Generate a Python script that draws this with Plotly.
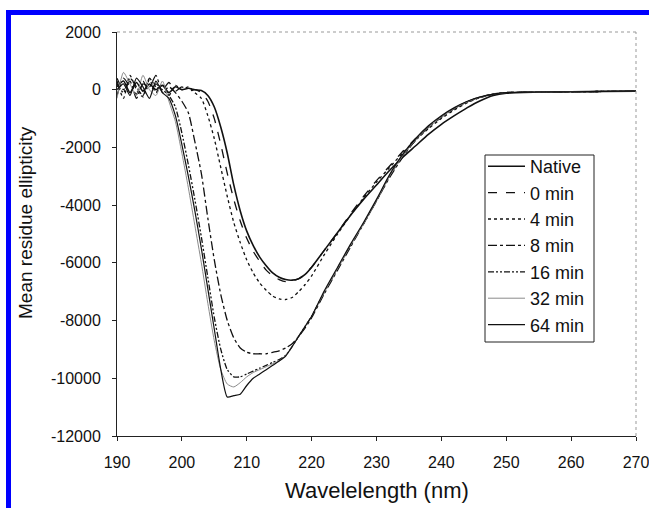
import plotly.graph_objects as go

# Wavelength grid (nm)
wavelength = [190, 191, 192, 193, 194, 195, 196, 197, 198, 199,
              200, 201, 202, 203, 204, 205, 206, 207, 208, 209,
              210, 211, 212, 213, 214, 215, 216, 217, 218, 219,
              220, 222, 224, 226, 228, 230, 232, 234, 236, 238,
              240, 242, 244, 246, 248, 250, 255, 260, 265, 270]

native = [100, 300, -100, 250, -50, 200, 0, 150, -100, 100,
          0, 50, 0, -30, -200, -600, -1300, -2200, -3300, -4200,
          -4900, -5400, -5800, -6100, -6350, -6500, -6580, -6600, -6550, -6400,
          -6150, -5550, -4950, -4350, -3800, -3300, -2800, -2350, -1950, -1550,
          -1200, -900, -620, -380, -200, -120, -80, -70, -60, -50]

min0 = [-200, 400, 100, -150, 300, -100, 200, 0, 250, -50,
        100, -50, 0, -100, -400, -1000, -1900, -2900, -3800, -4550,
        -5150, -5600, -5950, -6250, -6450, -6580, -6650, -6620, -6550, -6380,
        -6150, -5550, -4950, -4300, -3700, -3150, -2650, -2150, -1700, -1300,
        -950, -650, -420, -250, -150, -100, -80, -70, -60, -50]

min4 = [300, -300, 500, 0, -250, 350, -100, 200, -200, 150,
        0, 100, -100, -300, -900, -1700, -2700, -3700, -4600, -5300,
        -5900, -6350, -6700, -6950, -7150, -7250, -7270, -7200, -7000, -6750,
        -6450, -5700, -5000, -4350, -3750, -3200, -2700, -2200, -1750, -1350,
        -1000, -700, -450, -270, -160, -100, -80, -70, -60, -50]

min8 = [400, 0, 300, -300, 200, 100, 500, -100, 100, -100,
        -400, -800, -1800, -2900, -4450, -5900, -7100, -8000, -8600, -8950,
        -9100, -9150, -9150, -9150, -9100, -9050, -8950, -8800, -8550, -8250,
        -7900, -7050, -6250, -5450, -4650, -3850, -3050, -2350, -1750, -1300,
        -950, -650, -420, -260, -150, -100, -80, -70, -60, -50]

min16 = [200, -100, 400, 100, -200, 400, 100, 0, -200, -600,
         -1500, -2600, -3800, -5100, -6500, -7900, -9000, -9700, -9950, -9950,
         -9850, -9750, -9650, -9550, -9450, -9350, -9200, -8900, -8550, -8200,
         -7850, -7000, -6200, -5400, -4650, -3850, -3000, -2300, -1750, -1300,
         -950, -650, -420, -260, -150, -100, -80, -70, -60, -50]

min32 = [-300, 600, 200, -200, 500, 0, -200, 300, -400, -1100,
         -2200, -3400, -4700, -6000, -7400, -8700, -9700, -10200, -10300, -10150,
         -9950, -9800, -9700, -9600, -9500, -9400, -9200, -8900, -8550, -8200,
         -7850, -7000, -6200, -5400, -4650, -3850, -3000, -2300, -1750, -1300,
         -950, -650, -420, -260, -150, -100, -80, -70, -60, -50]

min64 = [0, 200, -200, 400, 100, -300, 300, -100, -300, -900,
         -1900, -3000, -4200, -5500, -6900, -8300, -9700, -10650, -10600, -10550,
         -10250, -10000, -9850, -9700, -9550, -9400, -9230, -8900, -8550, -8200,
         -7850, -6950, -6150, -5350, -4600, -3800, -2950, -2250, -1700, -1250,
         -900, -620, -400, -250, -150, -100, -80, -70, -60, -50]

series_names = ["Native", "0 min", "4 min", "8 min", "16 min", "32 min", "64 min"]
series_values = [native, min0, min4, min8, min16, min32, min64]

styles = [
    dict(color="#111111", width=1.6, dash="solid"),
    dict(color="#111111", width=1.3, dash="dash"),
    dict(color="#111111", width=1.3, dash="dot"),
    dict(color="#111111", width=1.3, dash="dashdot"),
    dict(color="#111111", width=1.3, dash="6px,2px,2px,2px,2px,2px"),
    dict(color="#8a8a8a", width=1.0, dash="solid"),
    dict(color="#111111", width=1.2, dash="solid"),
]

x_ticks = [190, 200, 210, 220, 230, 240, 250, 260, 270]
y_ticks = [2000, 0, -2000, -4000, -6000, -8000, -10000, -12000]

fig = go.Figure()
for i, (name, vals) in enumerate(zip(series_names, series_values)):
    fig.add_trace(go.Scatter(
        x=wavelength, y=vals, mode="lines", name=name,
        line=dict(shape="spline", smoothing=0.6, **styles[i]),
        legendgroup=f"g{i}",
    ))

font_family = "Liberation Sans, Arial, sans-serif"

# pixel helpers for paper coordinates (plot area 117..636 x 32..436)
def px(x):
    return (x - 117) / 519

def py(y):
    return (436 - y) / 404

fig.update_layout(
    width=649, height=508,
    autosize=False,
    margin=dict(l=117, r=13, t=32, b=72, autoexpand=False),
    paper_bgcolor="white", plot_bgcolor="white",
    font=dict(family=font_family, color="#111111", size=16),
    showlegend=True,
    legend=dict(
        x=px(483), y=py(148), xanchor="left", yanchor="top",
        bgcolor="rgba(0,0,0,0)", borderwidth=0,
        font=dict(size=18, family=font_family, color="#111111"),
        tracegroupgap=0,
        itemwidth=37,
    ),
    xaxis=dict(
        range=[190, 270], tickvals=x_ticks, ticktext=[str(v) for v in x_ticks],
        showgrid=False, zeroline=False, showline=True, linecolor="#222222", linewidth=1,
        ticks="outside", ticklen=4, tickcolor="#222222", automargin=False,
        tickfont=dict(size=16), ticklabelstandoff=8, ticklabeloverflow="allow",
    ),
    yaxis=dict(
        range=[-12000, 2000], tickvals=y_ticks, ticktext=[str(v) for v in y_ticks],
        showgrid=False, zeroline=False, showline=True, linecolor="#222222", linewidth=1,
        ticks="outside", ticklen=4, tickcolor="#222222", automargin=False,
        tickfont=dict(size=16), ticklabelstandoff=8, ticklabeloverflow="allow",
    ),
    annotations=[
        dict(text="Wavelelength (nm)", xref="paper", yref="paper",
             x=px(377), y=py(490), xanchor="center", yanchor="middle",
             showarrow=False, font=dict(size=22, family=font_family, color="#111111")),
        dict(text="Mean residue ellipticity", xref="paper", yref="paper",
             x=px(25), y=py(223), xanchor="center", yanchor="middle", textangle=-90,
             showarrow=False, font=dict(size=19, family=font_family, color="#111111")),
    ],
    shapes=[
        # dotted top and right plot border
        dict(type="line", xref="paper", yref="paper", x0=0, x1=1, y0=1, y1=1,
             line=dict(color="#999999", width=1, dash="dot")),
        dict(type="line", xref="paper", yref="paper", x0=1, x1=1, y0=0, y1=1,
             line=dict(color="#999999", width=1, dash="dot")),
        # legend box
        dict(type="rect", xref="paper", yref="paper",
             x0=px(485), x1=px(594), y0=py(342), y1=py(155),
             line=dict(color="#222222", width=1), fillcolor="white", layer="below"),
        # blue frame (top and left)
        dict(type="rect", xref="paper", yref="paper",
             x0=px(6), x1=px(660), y0=py(15), y1=py(10),
             line=dict(width=0), fillcolor="#0000ff", layer="above"),
        dict(type="rect", xref="paper", yref="paper",
             x0=px(6), x1=px(11), y0=py(520), y1=py(10),
             line=dict(width=0), fillcolor="#0000ff", layer="above"),
    ],
)

fig.write_html(
    "out.html",
    config={"responsive": False, "displayModeBar": False},
    post_script="document.body.style.margin='0';document.body.style.overflow='hidden';",
)
